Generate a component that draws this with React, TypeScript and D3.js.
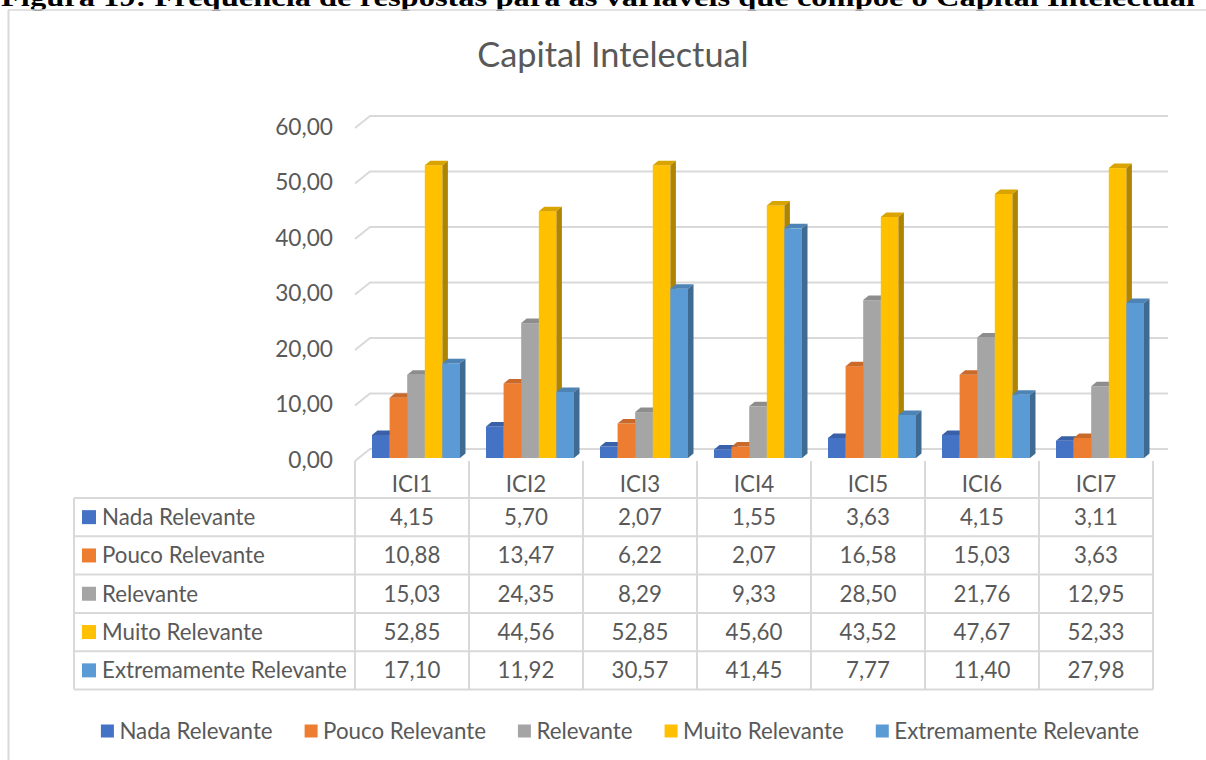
import React, { useEffect, useRef } from "react";
import * as d3 from "d3";

const categories = ["ICI1", "ICI2", "ICI3", "ICI4", "ICI5", "ICI6", "ICI7"];
const seriesNames = ["Nada Relevante", "Pouco Relevante", "Relevante", "Muito Relevante", "Extremamente Relevante"];
const nadaRelevante = [4.15, 5.7, 2.07, 1.55, 3.63, 4.15, 3.11];
const poucoRelevante = [10.88, 13.47, 6.22, 2.07, 16.58, 15.03, 3.63];
const relevante = [15.03, 24.35, 8.29, 9.33, 28.5, 21.76, 12.95];
const muitoRelevante = [52.85, 44.56, 52.85, 45.6, 43.52, 47.67, 52.33];
const extremamenteRelevante = [17.1, 11.92, 30.57, 41.45, 7.77, 11.4, 27.98];
const seriesColors = ["#4472C4", "#ED7D31", "#A5A5A5", "#FFC000", "#5B9BD5"];
const yTicks = [0, 10, 20, 30, 40, 50, 60];
const chartTitle = "Capital Intelectual";
const figureCaption = "Figura 19: Frequência de respostas para as variáveis que compõe o Capital Intelectual";

const seriesValues = [nadaRelevante, poucoRelevante, relevante, muitoRelevante, extremamenteRelevante];

const W = 1206;
const H = 760;
const FONT = "Lato, 'Open Sans', sans-serif";
const TEXT = "#595959";
const GRID = "#D9D9D9";

export default function App() {
  const ref = useRef<SVGSVGElement | null>(null);

  useEffect(() => {
    const svg = d3.select(ref.current);
    svg.selectAll("*").remove();

    const fmt = (v: number) => d3.format(".2f")(v).replace(".", ",");

    // geometry
    const plotLeft = 355;
    const plotRight = 1153;
    const depthX = 15;
    const depthY = -12;
    const yFront = d3.scaleLinear().domain([0, 60]).range([461, 128]);
    const yBar = d3.scaleLinear().domain([0, 60]).range([458, 125.6]);
    const xCat = d3.scaleBand<string>().domain(categories).range([plotLeft, plotRight]).padding(0);
    const clusterW = 88;
    const clusterOffset = (xCat.bandwidth() - clusterW) / 2 + 4;
    const xSer = d3.scaleBand<string>().domain(seriesNames).range([0, clusterW]).padding(0);
    const barDX = 5.5;
    const barDY = -4.5;

    // caption (clipped at top, as in the source page)
    svg
      .append("text")
      .attr("x", 1)
      .attr("y", 6)
      .attr("textLength", 1194)
      .attr("lengthAdjust", "spacingAndGlyphs")
      .attr("font-family", "'Liberation Serif', 'Times New Roman', serif")
      .attr("font-weight", "bold")
      .attr("font-size", 26)
      .attr("fill", "#000")
      .text(figureCaption);

    // chart border
    svg.append("line").attr("x1", 8).attr("x2", W).attr("y1", 10).attr("y2", 10).attr("stroke", GRID).attr("stroke-width", 1.5);
    svg.append("line").attr("x1", 8.5).attr("x2", 8.5).attr("y1", 10).attr("y2", H).attr("stroke", GRID).attr("stroke-width", 2);

    // title
    svg
      .append("text")
      .attr("x", 613)
      .attr("y", 55)
      .attr("dy", "0.35em")
      .attr("text-anchor", "middle")
      .attr("font-family", FONT)
      .attr("font-size", 34.3)
      .attr("fill", TEXT)
      .text(chartTitle);

    // gridlines (side wall stub + back wall)
    const grid = svg.append("g").attr("stroke", GRID).attr("stroke-width", 2).attr("fill", "none");
    yTicks.forEach((t) => {
      const yf = yFront(t);
      grid
        .append("path")
        .attr("d", `M${plotLeft},${yf} L${plotLeft + depthX},${yf + depthY} L${plotRight + depthX},${yf + depthY}`);
    });

    // y labels
    svg
      .append("g")
      .selectAll("text")
      .data(yTicks)
      .join("text")
      .attr("x", 333)
      .attr("y", (d) => yFront(d) - 1)
      .attr("dy", "0.35em")
      .attr("text-anchor", "end")
      .attr("font-family", FONT)
      .attr("font-size", 22.7)
      .attr("fill", TEXT)
      .text((d) => fmt(d));

    // bars
    const bars = svg.append("g");
    categories.forEach((cat, ci) => {
      seriesNames.forEach((name, si) => {
        const v = seriesValues[si][ci];
        const x = (xCat(cat) as number) + clusterOffset + (xSer(name) as number);
        const w = xSer.bandwidth();
        const y0 = yBar(0);
        const y1 = yBar(v);
        const base = d3.color(seriesColors[si]) as d3.RGBColor;
        const g = bars.append("g");
        g.append("rect").attr("x", x).attr("y", y1).attr("width", w).attr("height", y0 - y1).attr("fill", seriesColors[si]);
        g.append("path")
          .attr("d", `M${x},${y1} L${x + w},${y1} L${x + w + barDX},${y1 + barDY} L${x + barDX},${y1 + barDY} Z`)
          .attr("fill", base.darker(0.45).formatHex());
        g.append("path")
          .attr("d", `M${x + w},${y1} L${x + w + barDX},${y1 + barDY} L${x + w + barDX},${y0 + barDY} L${x + w},${y0} Z`)
          .attr("fill", base.darker(1.05).formatHex());
      });
    });

    // data table
    const tableLeft = 74;
    const headerTop = 461;
    const rowTop = 498;
    const rowH = 38.3;
    const rowY = d3.scaleLinear().domain([0, 1]).range([rowTop, rowTop + rowH]);
    const tbl = svg.append("g").attr("stroke", GRID).attr("stroke-width", 2);
    d3.range(seriesNames.length + 1).forEach((i) => {
      tbl.append("line").attr("x1", tableLeft).attr("x2", plotRight).attr("y1", rowY(i)).attr("y2", rowY(i));
    });
    tbl.append("line").attr("x1", tableLeft).attr("x2", tableLeft).attr("y1", rowTop).attr("y2", rowY(seriesNames.length));
    [...categories.map((c) => xCat(c) as number), plotRight].forEach((x) => {
      tbl.append("line").attr("x1", x).attr("x2", x).attr("y1", headerTop).attr("y2", rowY(seriesNames.length));
    });

    const tableFont = 22.3;

    // header labels
    svg
      .append("g")
      .selectAll("text")
      .data(categories)
      .join("text")
      .attr("x", (d) => (xCat(d) as number) + xCat.bandwidth() / 2)
      .attr("y", 484)
      .attr("dy", "0.35em")
      .attr("text-anchor", "middle")
      .attr("font-family", FONT)
      .attr("font-size", tableFont)
      .attr("fill", TEXT)
      .text((d) => d);

    // rows
    seriesNames.forEach((name, si) => {
      const cy = rowY(si) + rowH / 2;
      svg
        .append("rect")
        .attr("x", 82)
        .attr("y", cy - 7)
        .attr("width", 14)
        .attr("height", 14)
        .attr("fill", seriesColors[si]);
      svg
        .append("text")
        .attr("x", 102)
        .attr("y", cy)
        .attr("dy", "0.35em")
        .attr("font-family", FONT)
        .attr("font-size", tableFont)
        .attr("fill", TEXT)
        .text(name);
      categories.forEach((cat, ci) => {
        svg
          .append("text")
          .attr("x", (xCat(cat) as number) + xCat.bandwidth() / 2)
          .attr("y", cy)
          .attr("dy", "0.35em")
          .attr("text-anchor", "middle")
          .attr("font-family", FONT)
          .attr("font-size", tableFont)
          .attr("fill", TEXT)
          .text(fmt(seriesValues[si][ci]));
      });
    });

    // legend
    const legend = svg.append("g");
    const sq = 13;
    const gapText = 5.5;
    const gapItem = 32;
    const items = seriesNames.map((name, si) => {
      const g = legend.append("g");
      g.append("rect").attr("x", 0).attr("y", -sq / 2).attr("width", sq).attr("height", sq).attr("fill", seriesColors[si]);
      const t = g
        .append("text")
        .attr("x", sq + gapText)
        .attr("y", 0)
        .attr("dy", "0.35em")
        .attr("font-family", FONT)
        .attr("font-size", tableFont)
        .attr("fill", TEXT)
        .text(name);
      const tw = (t.node() as SVGTextElement).getComputedTextLength();
      return { g, w: sq + gapText + tw };
    });
    const total = d3.sum(items, (d) => d.w) + gapItem * (items.length - 1);
    let cx = 620 - total / 2;
    items.forEach((it) => {
      it.g.attr("transform", `translate(${cx},731)`);
      cx += it.w + gapItem;
    });
  }, []);

  return (
    <svg
      ref={ref}
      width={W}
      height={H}
      style={{ position: "absolute", left: 0, top: 0, background: "#fff", display: "block" }}
    />
  );
}
